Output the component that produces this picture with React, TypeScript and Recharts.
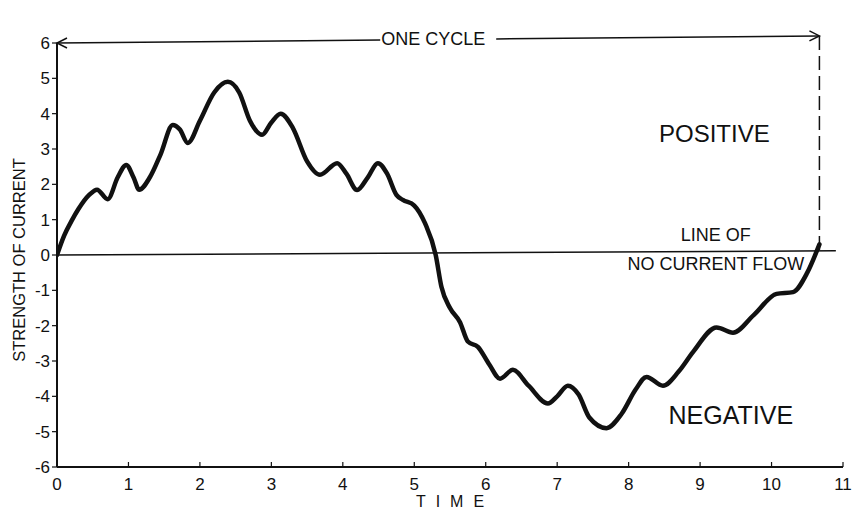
import React from 'react';
import { LineChart, Line, XAxis, YAxis, ReferenceLine, ReferenceDot } from 'recharts';

const timeValues = [0, 0.1, 0.2, 0.3, 0.45, 0.56, 0.71, 0.85, 0.97, 1.07, 1.15, 1.3, 1.45, 1.62, 1.72, 1.83, 2.0, 2.2, 2.39, 2.55, 2.7, 2.87, 3.0, 3.13, 3.3, 3.5, 3.68, 3.92, 4.05, 4.2, 4.35, 4.49, 4.62, 4.75, 4.84, 5.0, 5.15, 5.3, 5.38, 5.5, 5.64, 5.75, 5.89, 6.05, 6.2, 6.38, 6.6, 6.87, 7.0, 7.15, 7.3, 7.45, 7.69, 7.9, 8.1, 8.25, 8.48, 8.7, 8.9, 9.23, 9.46, 9.75, 10.07, 10.3, 10.5, 10.67];
const currentValues = [0, 0.55, 0.95, 1.3, 1.7, 1.85, 1.58, 2.2, 2.55, 2.2, 1.85, 2.2, 2.85, 3.68, 3.55, 3.17, 3.8, 4.6, 4.9, 4.6, 3.8, 3.4, 3.75, 4.0, 3.6, 2.65, 2.27, 2.6, 2.3, 1.84, 2.2, 2.6, 2.3, 1.7, 1.56, 1.4, 0.9, 0.0, -0.9, -1.5, -1.9, -2.45, -2.6, -3.1, -3.5, -3.25, -3.7, -4.2, -4.0, -3.7, -3.95, -4.6, -4.9, -4.5, -3.8, -3.45, -3.7, -3.3, -2.75, -2.05, -2.2, -1.7, -1.1, -1.05, -0.5, 0.3];
const xTicks = [0, 1, 2, 3, 4, 5, 6, 7, 8, 9, 10, 11];
const yTicks = [-6, -5, -4, -3, -2, -1, 0, 1, 2, 3, 4, 5, 6];
const cycleEnd = 10.67;

const data = timeValues.map((t, i) => ({ t, v: currentValues[i] }));

const FONT = '"Liberation Sans", Arial, sans-serif';

const textLabel = (text: string, size: number, spacing = 0) => (props: any) => (
  <text x={props.cx} y={props.cy} textAnchor="middle" dominantBaseline="central" fontFamily={FONT} fontSize={size} letterSpacing={spacing} fill="#111">
    {text}
  </text>
);

const CycleArrow = (props: any) => {
  const { x1, y1, x2, y2 } = props;
  const mx = (x1 + x2) / 2;
  const my = (y1 + y2) / 2;
  const gap = 58;
  const slope = (y2 - y1) / (x2 - x1);
  const yAt = (x: number) => y1 + slope * (x - x1);
  return (
    <g>
      <line x1={x1} y1={y1} x2={mx - gap} y2={yAt(mx - gap)} stroke="#111" strokeWidth={1.5} />
      <line x1={mx + gap} y1={yAt(mx + gap)} x2={x2} y2={y2} stroke="#111" strokeWidth={1.5} />
      <path d={`M${x1 + 10},${y1 - 5} L${x1},${y1} L${x1 + 10},${y1 + 5}`} fill="none" stroke="#111" strokeWidth={1.5} />
      <path d={`M${x2 - 10},${y2 - 5} L${x2},${y2} L${x2 - 10},${y2 + 5}`} fill="none" stroke="#111" strokeWidth={1.5} />
      <text x={mx - 5} y={my} textAnchor="middle" dominantBaseline="central" fontFamily={FONT} fontSize={18} fill="#111">ONE CYCLE</text>
    </g>
  );
};

const YLabel = (props: any) => {
  const { viewBox } = props;
  const cx = 19;
  const cy = viewBox.y + viewBox.height / 2 + 5;
  return (
    <text x={cx} y={cy} transform={`rotate(-90 ${cx} ${cy})`} textAnchor="middle" dominantBaseline="central" fontFamily={FONT} fontSize={16.5} fill="#111">
      STRENGTH OF CURRENT
    </text>
  );
};

export default function App() {
  return (
    <div style={{ position: 'absolute', left: 0, top: 0, background: '#fff' }}>
      <LineChart width={854} height={509} data={data} margin={{ top: 43, right: 11, bottom: 10, left: 0 }}>
        <XAxis
          dataKey="t"
          type="number"
          domain={[0, 11]}
          ticks={xTicks}
          allowDataOverflow
          height={32}
          tickSize={5}
          tickLine={{ stroke: '#111', strokeWidth: 1.2, transform: 'translate(0,-5)' }}
          axisLine={{ stroke: '#111', strokeWidth: 2 }}
          tick={{ fill: '#111', fontSize: 17, fontFamily: FONT, dy: 4 }}
          label={{ value: 'TIME', position: 'insideBottom', offset: -8, fill: '#111', fontSize: 16, fontFamily: FONT, letterSpacing: 10, dx: 5 }}
        />
        <YAxis
          type="number"
          domain={[-6, 6]}
          ticks={yTicks}
          allowDataOverflow
          width={57}
          tickSize={5}
          tickLine={{ stroke: '#111', strokeWidth: 1.2 }}
          axisLine={{ stroke: '#111', strokeWidth: 2 }}
          tick={{ fill: '#111', fontSize: 17, fontFamily: FONT }}
          label={<YLabel />}
        />
        <ReferenceLine segment={[{ x: 0, y: 0 }, { x: 10.9, y: 0.12 }]} stroke="#111" strokeWidth={1.5} ifOverflow="visible" />
        <ReferenceLine segment={[{ x: cycleEnd, y: 6.2 }, { x: cycleEnd, y: 0.1 }]} stroke="#111" strokeWidth={1.5} strokeDasharray="14 6" ifOverflow="visible" />
        <ReferenceLine segment={[{ x: 0, y: 6 }, { x: cycleEnd, y: 6.2 }]} stroke="#111" ifOverflow="visible" shape={<CycleArrow />} />
        <ReferenceDot x={9.2} y={3.43} r={0} ifOverflow="visible" shape={textLabel('POSITIVE', 24)} />
        <ReferenceDot x={9.22} y={0.57} r={0} ifOverflow="visible" shape={textLabel('LINE OF', 18)} />
        <ReferenceDot x={9.22} y={-0.26} r={0} ifOverflow="visible" shape={textLabel('NO CURRENT FLOW', 18)} />
        <ReferenceDot x={9.43} y={-4.53} r={0} ifOverflow="visible" shape={textLabel('NEGATIVE', 25)} />
        <Line type="monotone" dataKey="v" stroke="#111" strokeWidth={4.5} dot={false} isAnimationActive={false} strokeLinecap="round" />
      </LineChart>
    </div>
  );
}
